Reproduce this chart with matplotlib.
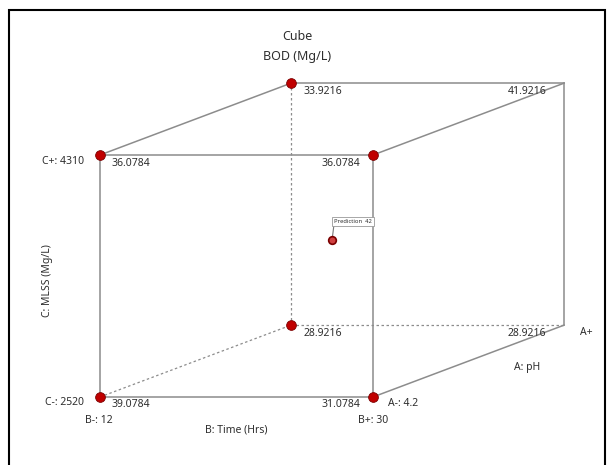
import numpy as np
import matplotlib.pyplot as plt
from matplotlib.patches import Rectangle

plt.rcParams['font.family'] = ['Noto Sans', 'DejaVu Sans']

# cube corners (a=pH, b=time, c=MLSS) coded 0/1 and BOD response
corners = [(0, 0, 0), (0, 1, 0), (0, 0, 1), (0, 1, 1),
           (1, 0, 0), (1, 1, 0), (1, 0, 1), (1, 1, 1)]
bod = [39.0784, 31.0784, 36.0784, 36.0784,
       28.9216, 28.9216, 33.9216, 41.9216]
has_run = [True, True, True, True, True, False, True, False]
pred_point = (0.5, 0.5, 0.5)
pred_value = 42

# oblique projection of the depth (A) axis
DX, DY = 0.70, 0.297


def proj(p):
    a, b, c = p
    return b + DX * a, c + DY * a


fig = plt.figure(figsize=(6.14, 4.65), dpi=100)
ax = fig.add_axes([0, 0, 1, 1])
ax.set_xlim(-0.3663, 1.8828)
ax.set_ylim(-0.281, 1.6405)
ax.axis('off')

fig.patches.append(Rectangle((9 / 614, -0.02), 596 / 614, 1.02 - 10 / 465,
                             transform=fig.transFigure, fill=False,
                             edgecolor='black', lw=1.5))

line_col = '#8c8c8c'
txt_col = '#2e2e2e'

# edges: hidden ones touch the back-bottom-left corner (1,0,0)
hidden = (1, 0, 0)
for i, p in enumerate(corners):
    for q in corners[i + 1:]:
        if sum(abs(u - v) for u, v in zip(p, q)) != 1:
            continue
        (x0, y0), (x1, y1) = proj(p), proj(q)
        if hidden in (p, q):
            ax.plot([x0, x1], [y0, y1], color=line_col, lw=0.9,
                    ls=(0, (2, 2)), zorder=1)
        else:
            ax.plot([x0, x1], [y0, y1], color=line_col, lw=1.1, zorder=1)

for p, v, run in zip(corners, bod, has_run):
    x, y = proj(p)
    if run:
        ax.plot(x, y, 'o', ms=7, mfc='#c00000', mec='#7a0000', mew=0.6, zorder=3)
    if p[1] == 0:
        dx, ha = 12, 'left'
    else:
        dx, ha = (-13 if p[0] == 0 else -18), 'right'
    ax.annotate(f'{v:.4f}', (x, y), xytext=(dx, -8), textcoords='offset pixels',
                ha=ha, va='center', fontsize=7.5, color=txt_col)

# prediction point
px, py = proj(pred_point)
ax.plot(px, py, 'o', ms=5.5, mfc='#d04040', mec='#7a0000', mew=1.2, zorder=4)
ax.annotate(f'Prediction  {pred_value}', (px, py), xytext=(2, 16),
            textcoords='offset pixels', ha='left', va='bottom',
            fontsize=4.2, color=txt_col,
            bbox=dict(boxstyle='square,pad=0.35', fc='white', ec='#999999', lw=0.6),
            arrowprops=dict(arrowstyle='-', color='#777777', lw=0.8,
                            relpos=(0, 0), shrinkA=0, shrinkB=3))

# factor level labels
fs = 7.5
x, y = proj((0, 0, 1))
ax.annotate('C+: 4310', (x, y), xytext=(-16, -7), textcoords='offset pixels',
            ha='right', va='center', fontsize=fs, color=txt_col)
x, y = proj((0, 0, 0))
ax.annotate('C-: 2520', (x, y), xytext=(-16, -6), textcoords='offset pixels',
            ha='right', va='center', fontsize=fs, color=txt_col)
ax.annotate('B-: 12', (x, y), xytext=(-1, -24), textcoords='offset pixels',
            ha='center', va='center', fontsize=fs, color=txt_col)
x, y = proj((0, 1, 0))
ax.annotate('B+: 30', (x, y), xytext=(0, -24), textcoords='offset pixels',
            ha='center', va='center', fontsize=fs, color=txt_col)
ax.annotate('A-: 4.2', (x, y), xytext=(15, -7), textcoords='offset pixels',
            ha='left', va='center', fontsize=fs, color=txt_col)
x, y = proj((1, 1, 0))
ax.annotate('A+', (x, y), xytext=(16, -7), textcoords='offset pixels',
            ha='left', va='center', fontsize=fs, color=txt_col)

# axis titles
x0, y0 = proj((0, 0, 0))
x1, y1 = proj((0, 1, 0))
ax.annotate('B: Time (Hrs)', ((x0 + x1) / 2, y0), xytext=(0, -33),
            textcoords='offset pixels', ha='center', va='center',
            fontsize=fs, color=txt_col)
x2, y2 = proj((0, 0, 1))
ax.annotate('C: MLSS (Mg/L)', (x0, (y0 + y2) / 2), xytext=(-52, -5),
            textcoords='offset pixels', ha='center', va='center',
            rotation=90, fontsize=fs, color=txt_col)
x3, y3 = proj((1, 1, 0))
ax.annotate('A: pH', ((x1 + x3) / 2, (y1 + y3) / 2), xytext=(59, -6),
            textcoords='offset pixels', ha='center', va='center',
            fontsize=fs, color=txt_col)

# titles
fig.text(297 / 614, 1 - 37 / 465, 'Cube', ha='center', va='center',
         fontsize=9, color=txt_col)
fig.text(297 / 614, 1 - 56 / 465, 'BOD (Mg/L)', ha='center', va='center',
         fontsize=9, color=txt_col)

fig.savefig('out.png', dpi=100)
